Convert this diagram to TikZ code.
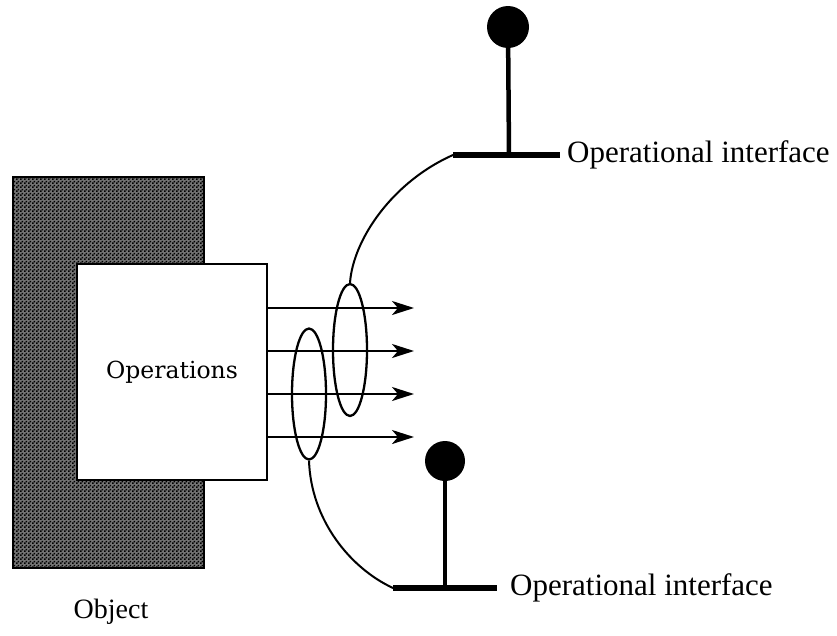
\documentclass[tikz,border=0pt]{standalone}
\usepackage{fontspec}
\newfontfamily\timesfont{Liberation Serif}
\newfontfamily\boxfont{DejaVu Serif}
\usetikzlibrary{arrows.meta,shapes.geometric,patterns.meta}

\tikzdeclarepattern{
  name=checker,
  type=uncolored,
  bottom left={(0pt,0pt)},
  top right={(4pt,4pt)},
  tile size={(4pt,4pt)},
  code={
    \fill (0pt,0pt) rectangle (2pt,2pt);
    \fill (2pt,2pt) rectangle (4pt,4pt);
  }
}

\tikzset{
  objbox/.style={draw=black, line width=2.5pt, fill=black!55,
    postaction={pattern=checker, pattern color=black},
    minimum width=191pt, minimum height=391pt, inner sep=0pt},
  opsbox/.style={draw=black, line width=2.5pt, fill=white,
    minimum width=190pt, minimum height=216pt, inner sep=0pt,
    font=\boxfont\fontsize{23.5}{26}\selectfont},
  flow/.style={line width=2.4pt, -{Stealth[length=22pt,width=14pt,inset=6pt]}},
  bundle/.style={draw=black, ellipse, line width=2.3pt,
    minimum width=34pt, minimum height=132pt, inner sep=0pt},
  lead/.style={line width=2pt},
  bar/.style={line width=5.5pt},
  stem/.style={line width=4.5pt},
  knob/.style={circle, fill=black, inner sep=0pt},
  lbl/.style={font=\timesfont\fontsize{31}{34}\selectfont, inner sep=0pt}
}

\begin{document}
\begin{tikzpicture}[x=1pt, y=-1pt]
  \useasboundingbox (0,0) rectangle (837,635);

  % the object and its operations
  \node[objbox] (obj) at (108.5,372.5) {};
  \node[opsbox] (ops) at (172,372) {Operations};
  \node[lbl, font=\timesfont\fontsize{28}{30}\selectfont] (objlbl) at (111,612) {Object};

  % outgoing operation arrows
  \foreach \i/\y in {1/308,2/351,3/394,4/437}{
    \coordinate (s\i) at (ops.east |- 0,\y);
    \coordinate (t\i) at (414,\y);
    \draw[flow] (s\i) -- (t\i);
  }

  % groupings of operations
  \node[bundle] (upg) at (350,350) {};
  \node[bundle, minimum height=131pt] (lowg) at (309,394) {};

  % upper interface
  \coordinate (ub1) at (453,155);
  \coordinate (ub2) at (560,155);
  \coordinate (us) at (509,155);
  \node[knob, minimum size=42pt] (uk) at (508,27) {};
  \draw[bar] (ub1) -- (ub2);
  \draw[stem] (us) -- (uk.center);
  \draw[lead] (upg.north) .. controls (353,240) and (392,182) .. (ub1);
  \node[lbl, anchor=west] (ulbl) at (567,155) {Operational interface};

  % lower interface
  \coordinate (lb1) at (393,588);
  \coordinate (lb2) at (497,588);
  \coordinate (ls) at (445,588);
  \node[knob, minimum size=40pt] (lk) at (445,461) {};
  \draw[bar] (lb1) -- (lb2);
  \draw[stem] (ls) -- (lk.center);
  \draw[lead] (lowg.south) .. controls (311,520) and (350,568) .. (lb1);
  \node[lbl, anchor=west] (llbl) at (510,588) {Operational interface};
\end{tikzpicture}
\end{document}
